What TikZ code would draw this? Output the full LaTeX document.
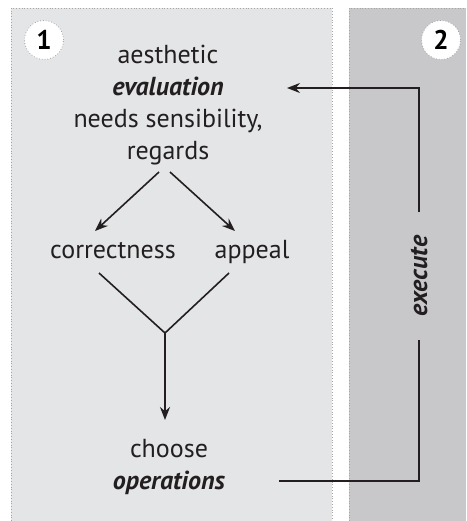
\documentclass[tikz,border=0pt]{standalone}
\usepackage{fontspec}
\setmainfont{PT Sans}
\usetikzlibrary{arrows.meta,calc}
\definecolor{paneone}{RGB}{228,229,231}
\definecolor{panetwo}{RGB}{200,200,202}
\definecolor{ink}{RGB}{35,31,32}

\begin{document}
\begin{tikzpicture}
      [x = 1pt, y = -1pt,
      pane/.style = {draw = gray!70, dotted, line width = 0.8pt},
      badge/.style = {
         draw = gray!70,
         dotted,
         line width = 0.8pt,
         fill = white,
         circle,
         inner sep = 0pt,
         minimum size = 39pt,
         font = \fontsize{27}{27}\selectfont\bfseries
      },
      word/.style = {
         text = ink,
         align = center,
         inner sep = 0pt,
         font = \fontsize{26}{32}\selectfont
      },
      flow/.style = {-{Stealth[length = 13pt, width = 10pt]}, line width = 1.6pt, draw = ink},
      link/.style = {line width = 1.6pt, draw = ink}]

      \useasboundingbox (0, 0) rectangle (466, 521);

      % the two panes
      \fill[paneone] (11, 8) rectangle (332, 521);
      \draw[pane] (11, 521) -- (11, 8) -- (332, 8) -- (332, 521);
      \fill[panetwo] (349, 8) rectangle (466, 521);
      \draw[pane] (349, 521) -- (349, 8) -- (466, 8);

      \node[badge] (one) at (44, 40) {1};
      \node[badge] (two) at (441, 40) {2};

      % texts
      \node[word, anchor = north] (eval) at (168, 45)
         {aesthetic\\ \textbf{\textit{evaluation}}\\ needs sensibility,\\ regards};
      \node[word, anchor = base] (corr) at (113, 258) {correctness};
      \node[word, anchor = base] (appeal) at (252, 258) {appeal};
      \node[word, anchor = north] (choose) at (169, 439)
         {choose\\ \textbf{\textit{operations}}};
      \node[word, rotate = 90, inner xsep = 23pt, font = \fontsize{26}{26}\selectfont\bfseries\itshape]
         (exec) at (419, 276) {execute};

      \coordinate (left) at (159, 172);
      \coordinate (right) at (170, 172);
      \coordinate (cleft) at (95, 231);
      \coordinate (aright) at (235, 231);
      \coordinate (vleft) at (99, 273);
      \coordinate (vright) at (229, 273);
      \coordinate (join) at (165, 333);
      \coordinate (down) at (165, 420);
      \coordinate (out) at (279, 481);
      \coordinate (back) at (287, 88);

      % connectors
      \draw[flow] (left) -- (cleft);
      \draw[flow] (right) -- (aright);
      \draw[link] (vleft) -- (join) -- (vright);
      \draw[flow] (join) -- (down);
      \draw[link] (out) -| (exec.west);
      \draw[flow] (exec.east) |- (back);

   \end{tikzpicture}
\end{document}
